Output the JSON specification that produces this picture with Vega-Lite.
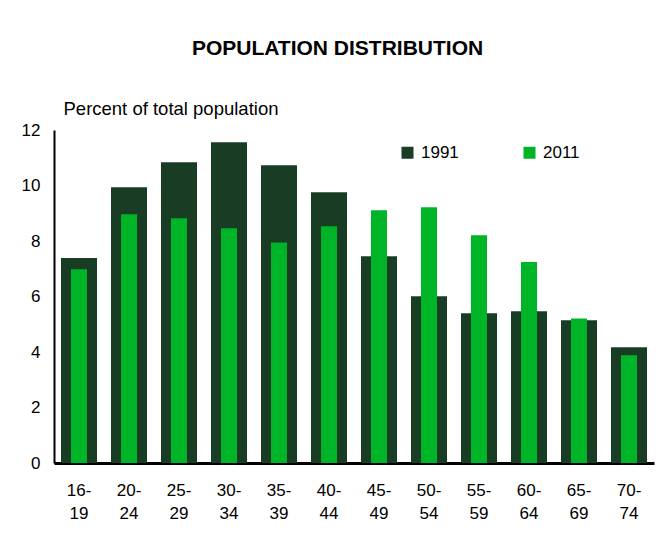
{
  "$schema": "https://vega.github.io/schema/vega-lite/v6.json",
  "width": 600,
  "height": 333,
  "padding": {"left": 21, "top": 38, "right": 5, "bottom": 5},
  "background": "white",
  "title": {
    "text": "POPULATION DISTRIBUTION",
    "font": "Liberation Sans",
    "fontSize": 21,
    "fontWeight": "bold",
    "color": "black",
    "anchor": "middle",
    "frame": "bounds",
    "offset": 40
  },
  "data": {
    "values": [
      {"age": "16-19", "year": "1991", "pct": 7.39},
      {"age": "20-24", "year": "1991", "pct": 9.94},
      {"age": "25-29", "year": "1991", "pct": 10.84},
      {"age": "30-34", "year": "1991", "pct": 11.56},
      {"age": "35-39", "year": "1991", "pct": 10.73},
      {"age": "40-44", "year": "1991", "pct": 9.76},
      {"age": "45-49", "year": "1991", "pct": 7.45},
      {"age": "50-54", "year": "1991", "pct": 6.01},
      {"age": "55-59", "year": "1991", "pct": 5.4},
      {"age": "60-64", "year": "1991", "pct": 5.47},
      {"age": "65-69", "year": "1991", "pct": 5.14},
      {"age": "70-74", "year": "1991", "pct": 4.17},
      {"age": "16-19", "year": "2011", "pct": 6.98},
      {"age": "20-24", "year": "2011", "pct": 8.96},
      {"age": "25-29", "year": "2011", "pct": 8.82},
      {"age": "30-34", "year": "2011", "pct": 8.46},
      {"age": "35-39", "year": "2011", "pct": 7.95},
      {"age": "40-44", "year": "2011", "pct": 8.53},
      {"age": "45-49", "year": "2011", "pct": 9.11},
      {"age": "50-54", "year": "2011", "pct": 9.22},
      {"age": "55-59", "year": "2011", "pct": 8.21},
      {"age": "60-64", "year": "2011", "pct": 7.24},
      {"age": "65-69", "year": "2011", "pct": 5.21},
      {"age": "70-74", "year": "2011", "pct": 3.88}
    ]
  },
  "encoding": {
    "x": {
      "field": "age",
      "type": "nominal",
      "sort": null,
      "scale": {"paddingInner": 0.28, "paddingOuter": 0.14},
      "axis": {
        "title": null,
        "labelAngle": 0,
        "labelExpr": "[slice(datum.label, 0, 3), slice(datum.label, 3)]",
        "labelFont": "Liberation Sans",
        "labelFontSize": 17,
        "labelColor": "black",
        "labelLineHeight": 23,
        "labelPadding": 19,
        "ticks": false,
        "domainColor": "black",
        "domainWidth": 3
      }
    },
    "y": {
      "field": "pct",
      "type": "quantitative",
      "scale": {"domain": [0, 12], "nice": false},
      "axis": {
        "title": "Percent of total population",
        "titleAngle": 0,
        "titleAlign": "left",
        "titleBaseline": "alphabetic",
        "titleX": 9,
        "titleY": -16,
        "titleFont": "Liberation Sans",
        "titleFontSize": 18.5,
        "titleFontWeight": "normal",
        "titleColor": "black",
        "values": [0, 2, 4, 6, 8, 10, 12],
        "grid": false,
        "ticks": false,
        "labelFont": "Liberation Sans",
        "labelFontSize": 17,
        "labelColor": "black",
        "labelPadding": 14,
        "domainColor": "black",
        "domainWidth": 2
      }
    },
    "color": {
      "field": "year",
      "type": "nominal",
      "scale": {"domain": ["1991", "2011"], "range": ["#183c24", "#00b428"]},
      "legend": {
        "title": null,
        "orient": "none",
        "legendX": 345,
        "legendY": 14,
        "direction": "horizontal",
        "columns": 2,
        "columnPadding": 62,
        "symbolType": "square",
        "symbolSize": 144,
        "symbolStrokeWidth": 0,
        "labelFont": "Liberation Sans",
        "labelFontSize": 17,
        "labelColor": "black",
        "labelOffset": 5,
        "padding": 0
      }
    }
  },
  "layer": [
    {
      "transform": [{"filter": "datum.year === '1991'"}],
      "mark": {"type": "bar"}
    },
    {
      "transform": [{"filter": "datum.year === '2011'"}],
      "mark": {"type": "bar", "size": 16}
    }
  ],
  "config": {
    "view": {"stroke": null},
    "font": "Liberation Sans"
  }
}
